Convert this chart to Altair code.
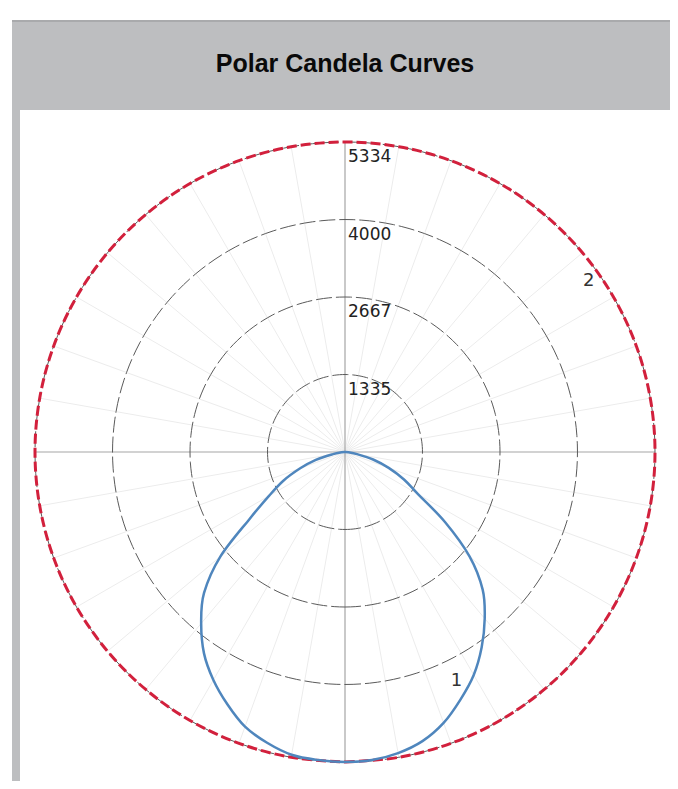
import math
import altair as alt
import pandas as pd

# ---------------- data ----------------
title_text = "Polar Candela Curves"
max_cd = 5334
ring_values = [1333, 2667, 4000, 5334]
ring_labels = ["1335", "2667", "4000", "5334"]

# curve 1 (blue): angle from nadir (deg) and candela, right and left halves
c1_angles = [0, 5, 10, 15, 20, 25, 30, 35, 40, 45, 50, 55, 60, 65, 70, 75, 80, 85, 90]
c1_right = [5334, 5320, 5260, 5150, 4960, 4700, 4430, 4100, 3740, 3350, 2800, 2100, 1450, 1120, 800, 500, 210, 60, 0]
c1_left = [5334, 5320, 5290, 5180, 5030, 4790, 4530, 4230, 3850, 3430, 2800, 2000, 1510, 1170, 820, 520, 210, 60, 0]

# curve 2 (red): full revolution
c2_angles = [0, 10, 20, 30, 40, 50, 60, 70, 80, 90, 100, 110, 120, 130, 140, 150, 160, 170, 180,
             190, 200, 210, 220, 230, 240, 250, 260, 270, 280, 290, 300, 310, 320, 330, 340, 350, 360]
c2_values = [5334, 5334, 5334, 5334, 5334, 5334, 5334, 5334, 5334, 5334, 5334, 5334, 5334,
             5334, 5334, 5334, 5334, 5334, 5334, 5334, 5334, 5334, 5334, 5334, 5334, 5334,
             5334, 5334, 5334, 5334, 5334, 5334, 5334, 5334, 5334, 5334, 5334]

# curve-name labels: text, angle from nadir, candela radius
curve_names = ["1", "2"]
curve_name_angles = [26, 125]
curve_name_radii = [4380, 5120]

# ---------------- helpers ----------------
def to_xy(angle_deg, r):
    a = math.radians(angle_deg)
    return r * math.sin(a), -r * math.cos(a)

rows = []
for i, (a, r) in enumerate(zip(c1_angles[::-1], c1_left[::-1])):
    x, y = to_xy(-a, r)
    rows.append({"o": i, "x": x, "y": y})
n = len(rows)
for j, (a, r) in enumerate(zip(c1_angles[1:], c1_right[1:])):
    x, y = to_xy(a, r)
    rows.append({"o": n + j, "x": x, "y": y})
c1_df = pd.DataFrame(rows)

c2_df = pd.DataFrame([{"o": i, "x": to_xy(a, r)[0], "y": to_xy(a, r)[1]}
                      for i, (a, r) in enumerate(zip(c2_angles, c2_values))])

ring_rows = []
for rv in ring_values:
    for k, a in enumerate(range(0, 362, 2)):
        x, y = to_xy(a, rv)
        ring_rows.append({"ring": rv, "o": k, "x": x, "y": y})
ring_df = pd.DataFrame(ring_rows)

spoke_rows = []
for a in range(0, 360, 10):
    if a % 90 == 0:
        continue
    x, y = to_xy(a, max_cd)
    spoke_rows.append({"x": 0, "y": 0, "x2": x, "y2": y})
spoke_df = pd.DataFrame(spoke_rows)

axes_df = pd.DataFrame([
    {"x": 0, "y": -max_cd, "x2": 0, "y2": max_cd, "kind": "v"},
    {"x": -max_cd, "y": 0, "x2": max_cd, "y2": 0, "kind": "h"},
])

lab_df = pd.DataFrame({"x": [0] * len(ring_values), "y": ring_values, "t": ring_labels})

name_rows = []
for t, a, r in zip(curve_names, curve_name_angles, curve_name_radii):
    x, y = to_xy(a, r)
    name_rows.append({"x": x, "y": y, "t": t})
name_df = pd.DataFrame(name_rows)

# ---------------- layout ----------------
W, H = 648, 669
cx, cy, R = 323, 340, 310
k = max_cd / R
xs = alt.Scale(domain=[-cx * k, (W - cx) * k], nice=False, zero=False)
ys = alt.Scale(domain=[-(H - cy) * k, cy * k], nice=False, zero=False)
X = alt.X("x:Q", scale=xs, axis=None)
Y = alt.Y("y:Q", scale=ys, axis=None)

blank = alt.Data(values=[{}])
header = alt.Chart(blank).mark_rect(color="#bdbec0").encode(
    x=alt.value(-10), x2=alt.value(W), y=alt.value(-92), y2=alt.value(-2))
header_top = alt.Chart(blank).mark_rule(color="#a9aaac", strokeWidth=2).encode(
    x=alt.value(-10), x2=alt.value(W), y=alt.value(-91))
left_strip = alt.Chart(blank).mark_rect(color="#bdbec0").encode(
    x=alt.value(-10), x2=alt.value(-2), y=alt.value(-2), y2=alt.value(H))
title = alt.Chart(blank).mark_text(
    text=title_text, font="Liberation Sans", fontSize=25, fontWeight="bold",
    color="#0a0a0a", align="center", baseline="middle").encode(
    x=alt.value(cx), y=alt.value(-48))

spokes = alt.Chart(spoke_df).mark_rule(color="#ececec", strokeWidth=1).encode(
    x=X, y=Y, x2="x2:Q", y2="y2:Q")
axes = alt.Chart(axes_df).mark_rule(color="#a5a5a5", strokeWidth=1.2).encode(
    x=X, y=Y, x2="x2:Q", y2="y2:Q")
rings = alt.Chart(ring_df).mark_line(color="#5a5a5a", strokeWidth=1, strokeDash=[16, 4]).encode(
    x=X, y=Y, order="o:Q", detail="ring:N")
red = alt.Chart(c2_df).mark_line(color="#d2203c", strokeWidth=3, strokeDash=[10, 4],
                                 interpolate="cardinal").encode(x=X, y=Y, order="o:Q")
blue = alt.Chart(c1_df).mark_line(color="#4f86bd", strokeWidth=2.5,
                                  interpolate="cardinal").encode(x=X, y=Y, order="o:Q")
ring_text = alt.Chart(lab_df).mark_text(
    font="DejaVu Sans", fontSize=17, color="#222222", align="left", baseline="middle",
    dx=3, dy=15).encode(x=X, y=Y, text="t:N")
names = alt.Chart(name_df).mark_text(
    font="DejaVu Sans", fontSize=18, color="#333333", align="center",
    baseline="middle").encode(x=X, y=Y, text="t:N")

chart = alt.layer(header, header_top, left_strip, title, spokes, axes, rings, red, blue,
                  ring_text, names).properties(
    width=W, height=H,
    autosize=alt.AutoSizeParams(type="none"),
    padding={"left": 14, "top": 104, "right": 0, "bottom": 0},
    background="white",
).configure_view(stroke=None)

chart.save("out.html", embed_options={"renderer": "svg", "actions": False})
